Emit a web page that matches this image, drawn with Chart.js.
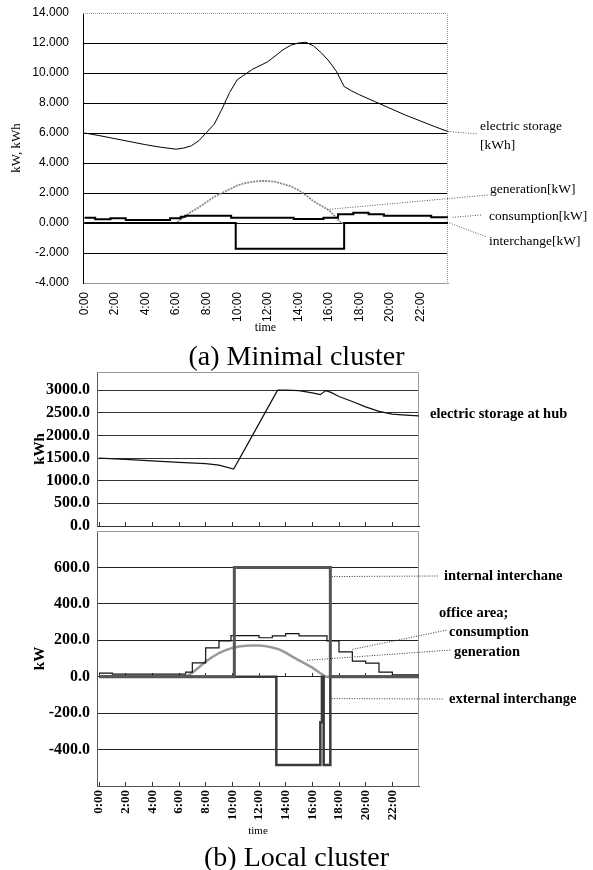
<!DOCTYPE html>
<html>
<head>
<meta charset="utf-8">
<script src="https://cdn.jsdelivr.net/npm/chart.js@4.4.1/dist/chart.umd.min.js"></script>
<style>
  body { margin: 0; background: #fff; }
  #page { position: relative; width: 593px; height: 870px; overflow: hidden; }
  canvas { position: absolute; left: 0; }
  .caption { position: absolute; left: 0; width: 593px; text-align: center; font-family: "Liberation Serif", "Times New Roman", serif; font-size: 28px; line-height: 1; color: #000; }
</style>
</head>
<body>
<div id="page">
  <canvas id="chartA" width="593" height="340" style="top:0"></canvas>
  <canvas id="chartB1" width="593" height="182" style="top:356px"></canvas>
  <canvas id="chartB2" width="593" height="327" style="top:516px"></canvas>
  <div class="caption" style="top:342px">(a) Minimal cluster</div>
  <div class="caption" style="top:843px">(b) Local cluster</div>
</div>
<script>
// tick positions (hours / axis values)
const timeTicks = [0, 2, 4, 6, 8, 10, 12, 14, 16, 18, 20, 22];
const kwTicksA = [-4, -2, 0, 2, 4, 6, 8, 10, 12, 14];
const kwhTicksB = [0, 500, 1000, 1500, 2000, 2500, 3000];
const kwTicksB = [-400, -200, 0, 200, 400, 600];

// (a) Minimal cluster
const storageHoursA = [0, 1, 2, 3, 4, 5, 6, 6.5, 7, 7.5, 8, 8.5, 9, 9.5, 10, 10.5, 11, 12, 13, 13.5, 14, 14.5, 15, 15.5, 16, 16.5, 17, 17.5, 18, 19, 20, 21, 22, 23, 23.8];
const storageA = [6.0, 5.82, 5.62, 5.42, 5.22, 5.05, 4.92, 5.0, 5.15, 5.5, 6.05, 6.6, 7.6, 8.7, 9.55, 9.9, 10.25, 10.75, 11.55, 11.85, 12.0, 12.05, 11.8, 11.35, 10.8, 10.1, 9.1, 8.8, 8.55, 8.1, 7.65, 7.2, 6.8, 6.4, 6.1];

const genHoursA = [0, 6.0, 6.5, 7, 7.5, 8, 8.5, 9, 9.5, 10, 10.5, 11, 11.5, 12, 12.5, 13, 13.5, 14, 14.5, 15, 15.5, 16, 16.5, 16.8, 23.8];
const generationA = [0, 0, 0.4, 0.75, 1.05, 1.4, 1.75, 2.0, 2.25, 2.5, 2.65, 2.75, 2.8, 2.8, 2.75, 2.6, 2.45, 2.2, 1.85, 1.45, 1.15, 0.85, 0.35, 0, 0];

const consHoursA = [0, 0.7, 1.7, 2.7, 5.6, 6.3, 6.6, 9.6, 13.7, 15.65, 16.6, 17.6, 18.6, 19.6, 22.7, 23.8];
const consumptionA = [0.35, 0.25, 0.31, 0.2, 0.31, 0.42, 0.49, 0.35, 0.27, 0.35, 0.58, 0.69, 0.58, 0.49, 0.38, 0.38];

const interHoursA = [0, 9.9, 17.0, 23.8];
const interchangeA = [0, -1.72, 0, 0];

// (b) Local cluster
const storageHoursB = [0, 2, 4, 6, 8, 9, 10.1, 11, 12, 13, 13.4, 14, 15, 16, 16.6, 17, 17.4, 18, 19, 20, 21, 22, 23, 24];
const storageB = [1500, 1470, 1440, 1405, 1375, 1345, 1255, 1730, 2260, 2790, 3000, 3000, 2990, 2940, 2900, 2990, 2950, 2860, 2750, 2630, 2530, 2470, 2450, 2430];

const consHoursB = [0, 1, 6.5, 7, 8, 9, 9.9, 12, 13, 14, 15, 17.1, 18, 19, 20, 21, 22, 24];
const consumptionB = [20, 14, 25, 76, 158, 197, 226, 214, 224, 237, 224, 197, 136, 86, 75, 25, 10, 10];

const genHoursB = [0, 6.5, 7, 7.5, 8, 8.5, 9, 9.5, 10, 10.5, 11, 11.5, 12, 12.5, 13, 13.5, 14, 14.5, 15, 15.5, 16, 16.5, 17, 24];
const generationB = [0, 0, 22, 52, 83, 108, 130, 146, 158, 166, 170, 172, 172, 168, 160, 150, 132, 110, 90, 70, 50, 25, 0, 0];

const internalHoursB = [0, 10.15, 17.35, 24];
const internalB = [0, 600, 0, 0];

const externalHoursB = [0, 13.3, 16.6, 16.72, 16.85, 17.35, 24];
const externalB = [0, -485, -250, 0, -485, 0, 0];

function pts(xs, ys) {
    return xs.map((x, i) => ({x: x, y: ys[i]}));
}
function fixedTicks(list) {
    return function(scale) { scale.ticks = list.map(v => ({value: v})); };
}

const serif = '"Liberation Serif", "Times New Roman", serif';
const sans = '"Liberation Sans", Arial, sans-serif';
const clear = 'rgba(0,0,0,0)';

// top and right edge of the plot area
const framePlugin = {
    id: 'frame',
    beforeDatasetsDraw(chart, args, opts) {
        const a = chart.chartArea, ctx = chart.ctx;
        ctx.save();
        ctx.strokeStyle = opts.color;
        ctx.lineWidth = 1;
        ctx.setLineDash(opts.dash || []);
        ctx.beginPath();
        ctx.moveTo(a.left, a.top + 0.5);
        ctx.lineTo(a.right - 0.5, a.top + 0.5);
        ctx.lineTo(a.right - 0.5, a.bottom);
        ctx.stroke();
        ctx.restore();
    }
};

// series names on the right, with dotted leader lines
const notesPlugin = {
    id: 'notes',
    afterDraw(chart, args, opts) {
        const ctx = chart.ctx, xs = chart.scales.x, ys = chart.scales.y;
        ctx.save();
        (opts.items || []).forEach(n => {
            if (n.from) {
                ctx.strokeStyle = opts.lineColor;
                ctx.lineWidth = 1;
                ctx.setLineDash([1, 1.5]);
                ctx.beginPath();
                ctx.moveTo(xs.getPixelForValue(n.from[0]), ys.getPixelForValue(n.from[1]));
                ctx.lineTo(n.to[0], n.to[1]);
                ctx.stroke();
            }
            ctx.setLineDash([]);
            ctx.fillStyle = '#000';
            ctx.font = opts.font;
            ctx.textBaseline = 'middle';
            n.lines.forEach((t, i) => ctx.fillText(t, n.at[0], n.at[1] + i * opts.lineHeight));
        });
        ctx.restore();
    }
};

const hourLabel = v => v + ':00';

// (a) Minimal cluster
new Chart(document.getElementById('chartA'), {
    type: 'line',
    data: {
        datasets: [
            {label: 'interchange[kW]', data: pts(interHoursA, interchangeA), borderColor: '#000', borderWidth: 2, stepped: true},
            {label: 'consumption[kW]', data: pts(consHoursA, consumptionA), borderColor: '#000', borderWidth: 2, stepped: true},
            {label: 'electric storage [kWh]', data: pts(storageHoursA, storageA), borderColor: '#000', borderWidth: 1},
            {label: 'generation[kW]', data: pts(genHoursA, generationA), borderColor: '#8a8a8a', borderWidth: 1.8, borderDash: [2, 1]}
        ]
    },
    options: {
        responsive: false,
        animation: false,
        elements: {point: {radius: 0}, line: {tension: 0}},
        layout: {padding: {left: 0, right: 145, top: 13, bottom: 0}},
        plugins: {
            legend: {display: false},
            tooltip: {enabled: false},
            frame: {color: '#999', dash: [1, 1]},
            notes: {
                font: '13.5px ' + serif, lineHeight: 19, lineColor: '#555',
                items: [
                    {lines: ['electric storage', '[kWh]'], at: [480, 126], from: [23.8, 6.1], to: [478, 134]},
                    {lines: ['generation[kW]'], at: [490, 189], from: [15.9, 0.9], to: [488, 195]},
                    {lines: ['consumption[kW]'], at: [489, 216], from: [24.1, 0.38], to: [481, 215]},
                    {lines: ['interchange[kW]'], at: [489, 241], from: [23.9, 0], to: [487, 237]}
                ]
            }
        },
        scales: {
            x: {
                type: 'linear', min: -0.1, max: 23.8,
                afterBuildTicks: fixedTicks(timeTicks),
                afterFit: s => { s.height = 57; },
                grid: {display: false},
                border: {color: '#999', dash: [1, 1]},
                ticks: {callback: hourLabel, minRotation: 90, maxRotation: 90, autoSkip: false, padding: 1, color: '#000', font: {family: sans, size: 12}},
                title: {display: true, text: 'time', color: '#000', font: {family: serif, size: 12}, padding: {top: 0, bottom: 5}}
            },
            y: {
                min: -4, max: 14,
                afterBuildTicks: fixedTicks(kwTicksA),
                afterFit: s => { s.width = 83; },
                grid: {drawTicks: true, tickLength: 14, tickColor: clear, color: c => (c.tick && (c.tick.value === 14 || c.tick.value === -4)) ? clear : '#000'},
                border: {color: '#000'},
                ticks: {callback: v => v.toFixed(3), padding: 0, color: '#000', font: {family: sans, size: 12}},
                title: {display: true, text: 'kW, kWh', color: '#000', font: {family: serif, size: 13}, padding: {top: 9, bottom: 0}}
            }
        }
    },
    plugins: [framePlugin, notesPlugin]
});

// (b) Local cluster, storage at hub
new Chart(document.getElementById('chartB1'), {
    type: 'line',
    data: {
        datasets: [
            {label: 'electric storage at hub', data: pts(storageHoursB, storageB), borderColor: '#111', borderWidth: 1.2}
        ]
    },
    options: {
        responsive: false,
        animation: false,
        elements: {point: {radius: 0}, line: {tension: 0}},
        layout: {padding: {left: 0, right: 174, top: 16, bottom: 0}},
        plugins: {
            legend: {display: false},
            tooltip: {enabled: false},
            frame: {color: '#999'},
            notes: {
                font: 'bold 14.5px ' + serif, lineHeight: 19, lineColor: '#333',
                items: [
                    {lines: ['electric storage at hub'], at: [430, 58]}
                ]
            }
        },
        scales: {
            x: {
                type: 'linear', min: -0.15, max: 24,
                afterBuildTicks: fixedTicks(timeTicks),
                afterFit: s => { s.height = 12; },
                grid: {drawOnChartArea: false, drawTicks: true, tickLength: -4, color: '#333'},
                border: {color: '#333'},
                ticks: {display: false}
            },
            y: {
                min: 0, max: 3400,
                afterBuildTicks: fixedTicks(kwhTicksB),
                afterFit: s => { s.width = 97; },
                grid: {drawTicks: true, tickLength: 7, tickColor: clear, color: '#333'},
                border: {color: '#555'},
                ticks: {callback: v => v.toFixed(1), padding: 0, color: '#000', font: {family: serif, size: 16, weight: 'bold'}},
                title: {display: true, text: 'kWh', color: '#000', font: {family: serif, size: 15, weight: 'bold'}, padding: {top: 31, bottom: 0}}
            }
        }
    },
    plugins: [framePlugin, notesPlugin]
});

// (b) Local cluster, power flows
new Chart(document.getElementById('chartB2'), {
    type: 'line',
    data: {
        datasets: [
            {label: 'internal interchane', data: pts(internalHoursB, internalB), borderColor: '#555', borderWidth: 3, stepped: true},
            {label: 'external interchange', data: pts(externalHoursB, externalB), borderColor: '#3a3a3a', borderWidth: 2.5, stepped: true},
            {label: 'office area; consumption', data: pts(consHoursB, consumptionB), borderColor: '#111', borderWidth: 1.2, stepped: true},
            {label: 'generation', data: pts(genHoursB, generationB), borderColor: '#999', borderWidth: 2.5}
        ]
    },
    options: {
        responsive: false,
        animation: false,
        elements: {point: {radius: 0}, line: {tension: 0}},
        layout: {padding: {left: 0, right: 174, top: 15, bottom: 0}},
        plugins: {
            legend: {display: false},
            tooltip: {enabled: false},
            frame: {color: '#999'},
            notes: {
                font: 'bold 14.5px ' + serif, lineHeight: 19, lineColor: '#333',
                items: [
                    {lines: ['internal interchane'], at: [444, 60], from: [17.45, 550], to: [438, 60]},
                    {lines: ['office area;'], at: [439, 97]},
                    {lines: ['consumption'], at: [449, 116], from: [19.0, 150], to: [447, 114]},
                    {lines: ['generation'], at: [454, 136], from: [15.6, 90], to: [451, 134]},
                    {lines: ['external interchange'], at: [449, 183], from: [17.45, -120], to: [443, 183]}
                ]
            }
        },
        scales: {
            x: {
                type: 'linear', min: -0.15, max: 24,
                afterBuildTicks: fixedTicks(timeTicks),
                afterFit: s => { s.height = 57; },
                grid: {drawOnChartArea: false, drawTicks: true, tickLength: -4, color: '#333'},
                border: {color: '#555'},
                ticks: {callback: hourLabel, minRotation: 90, maxRotation: 90, autoSkip: false, padding: 8, color: '#000', font: {family: serif, size: 13, weight: 'bold'}},
                title: {display: true, text: 'time', color: '#000', font: {family: serif, size: 11}, padding: {top: 0, bottom: 5}}
            },
            x2: {
                type: 'linear', min: -0.15, max: 24, position: {y: 0},
                afterBuildTicks: fixedTicks(timeTicks),
                grid: {drawOnChartArea: false, drawTicks: true, tickLength: -4, color: '#333'},
                border: {display: false},
                ticks: {display: false}
            },
            y: {
                min: -600, max: 800,
                afterBuildTicks: fixedTicks(kwTicksB),
                afterFit: s => { s.width = 97; },
                grid: {drawTicks: true, tickLength: 7, tickColor: clear, color: '#222'},
                border: {color: '#555'},
                ticks: {callback: v => v.toFixed(1), padding: 0, color: '#000', font: {family: serif, size: 16, weight: 'bold'}},
                title: {display: true, text: 'kW', color: '#000', font: {family: serif, size: 15, weight: 'bold'}, padding: {top: 31, bottom: 0}}
            }
        }
    },
    plugins: [framePlugin, notesPlugin]
});
</script>
</body>
</html>
